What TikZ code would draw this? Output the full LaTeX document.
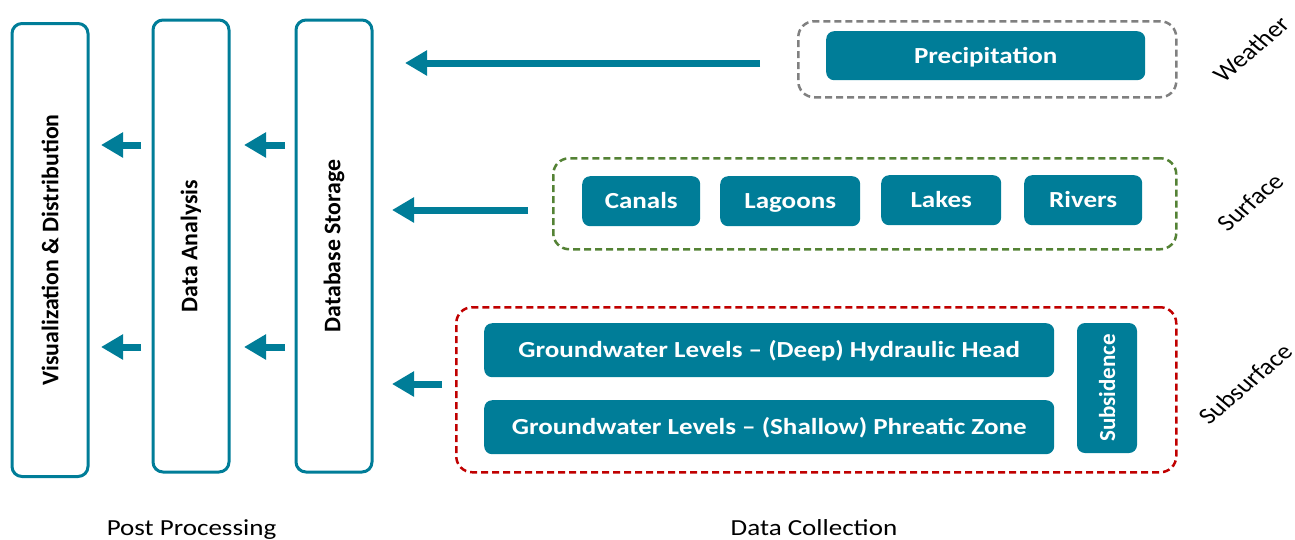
\documentclass[tikz,border=0pt]{standalone}
\usepackage{fontspec}
\setmainfont[FakeStretch=1.175]{Carlito}
\newfontfamily\colfont{Carlito}
\usetikzlibrary{arrows.meta}
\definecolor{tealc}{RGB}{0,125,152}
\definecolor{grayc}{RGB}{128,128,128}
\definecolor{greenc}{RGB}{84,130,53}
\definecolor{redc}{RGB}{192,0,0}
\newcommand{\slanted}[1]{\scalebox{1.175}[1]{\rotatebox{45}{#1}}}
\tikzset{
  colbox/.style={draw=tealc, line width=3pt, rounded corners=10pt, rotate=90,
    minimum height=76pt, inner sep=0pt, font=\colfont\bfseries\fontsize{23.8}{28}\selectfont},
  fillbox/.style={fill=tealc, text=white, rounded corners=8pt, inner sep=0pt,
    text height=19pt, text depth=4pt,
    font=\bfseries\fontsize{23}{27}\selectfont},
  group/.style={line width=2.5pt, dash pattern=on 7pt off 4pt, rounded corners=16pt},
  blockarrow/.style={draw=tealc, line width=7pt, -{Triangle[length=22pt,width=24pt]}},
  sidelabel/.style={font=\colfont\fontsize{23}{27}\selectfont, inner sep=0pt},
  footlabel/.style={font=\fontsize{23}{27}\selectfont, anchor=base, inner sep=0pt}
}
\begin{document}
\begin{tikzpicture}[x=1pt,y=-1pt]
\useasboundingbox (0,0) rectangle (1295,539);
% columns
\node[colbox, minimum width=453pt] (vis) at (50,250) {Visualization \& Distribution};
\node[colbox, minimum width=452pt] (da) at (191,246) {Data Analysis};
\node[colbox, minimum width=452pt] (ds) at (334,246) {Database Storage};
% groups
\node[group, draw=grayc, minimum width=378pt, minimum height=76pt, anchor=north west] (wg) at (797,20) {};
\node[group, draw=greenc, minimum width=623pt, minimum height=91pt, anchor=north west] (sg) at (552,157) {};
\node[group, draw=redc, minimum width=720pt, minimum height=165pt, anchor=north west] (ssg) at (455,306) {};
% weather
\node[fillbox, minimum width=319pt, minimum height=49pt, anchor=north west] (prec) at (826,31) {Precipitation};
% surface
\node[fillbox, minimum width=118pt, minimum height=50pt, anchor=north west] (canals) at (582,176) {Canals};
\node[fillbox, minimum width=140pt, minimum height=50pt, anchor=north west] (lagoons) at (720,176) {Lagoons};
\node[fillbox, minimum width=120pt, minimum height=50pt, anchor=north west] (lakes) at (881,175) {Lakes};
\node[fillbox, minimum width=118pt, minimum height=50pt, anchor=north west] (rivers) at (1024,175) {Rivers};
% subsurface
\node[fillbox, minimum width=570pt, minimum height=54pt, anchor=north west] (deep) at (484,323) {Groundwater Levels -- (Deep) Hydraulic Head};
\node[fillbox, minimum width=570pt, minimum height=54pt, anchor=north west] (shallow) at (484,400) {Groundwater Levels -- (Shallow) Phreatic Zone};
\node[fillbox, font=\colfont\bfseries\fontsize{23}{27}\selectfont, text height=, text depth=, rotate=90, minimum width=130pt, minimum height=60pt] (subs) at (1107,388) {Subsidence};
% side labels
\node[sidelabel] (lw) at (1251,49) {\slanted{Weather}};
\node[sidelabel] (ls) at (1250,202) {\slanted{Surface}};
\node[sidelabel] (lss) at (1245,384) {\slanted{Subsurface}};
% foot labels
\node[footlabel] (pp) at (191.5,535) {Post Processing};
\node[footlabel] (dc) at (814,535) {Data Collection};
% arrow coordinates
\coordinate (a1s) at (760,63);  \coordinate (a1e) at (405,63);
\coordinate (a2s) at (528,210); \coordinate (a2e) at (392,210);
\coordinate (a3s) at (442,384); \coordinate (a3e) at (392,384);
\coordinate (b1s) at (141,145); \coordinate (b1e) at (101,145);
\coordinate (b2s) at (141,347); \coordinate (b2e) at (101,347);
\coordinate (c1s) at (285,145); \coordinate (c1e) at (244,145);
\coordinate (c2s) at (285,347); \coordinate (c2e) at (244,347);
\draw[blockarrow] (a1s) -- (a1e);
\draw[blockarrow] (a2s) -- (a2e);
\draw[blockarrow] (a3s) -- (a3e);
\draw[blockarrow] (b1s) -- (b1e);
\draw[blockarrow] (b2s) -- (b2e);
\draw[blockarrow] (c1s) -- (c1e);
\draw[blockarrow] (c2s) -- (c2e);
\end{tikzpicture}
\end{document}
